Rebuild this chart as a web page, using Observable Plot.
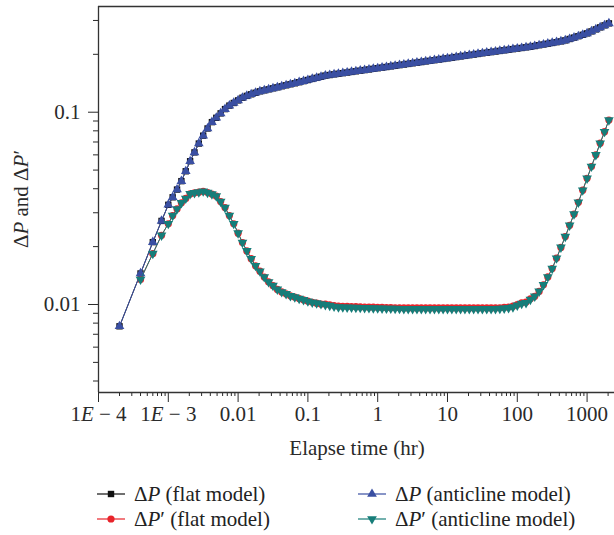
<!DOCTYPE html>
<html><head><meta charset="utf-8">
<script src="https://cdn.jsdelivr.net/npm/d3@7"></script>
<script src="https://cdn.jsdelivr.net/npm/@observablehq/plot@0.6"></script>
<style>
body{margin:0;background:#fff;}
#chart{width:614px;height:535px;position:relative;font-family:"Liberation Serif",serif;color:#222;}
#legend{position:absolute;left:0;top:470px;width:614px;height:65px;font-size:21px;}
.item{position:absolute;display:flex;align-items:center;height:22px;white-space:nowrap;}
.item svg{margin-right:8px;}
</style></head><body><div id="chart"></div>
<script>
// ---- data ----
const time = [0.0002,0.0004,0.0006,0.0008,
0.001,0.001155,0.001334,0.00154,0.001778,0.002054,0.002371,0.002738,0.003162,0.003652,0.004217,0.00487,0.005623,0.006494,0.007499,0.00866,
0.01,0.01155,0.01334,0.0154,0.01778,0.02054,0.02371,0.02738,0.03162,0.03652,0.04217,0.0487,0.05623,0.06494,0.07499,0.0866,
0.1,0.1155,0.1334,0.154,0.1778,0.2054,0.2371,0.2738,0.3162,0.3652,0.4217,0.487,0.5623,0.6494,0.7499,0.866,
1,1.155,1.334,1.54,1.778,2.054,2.371,2.738,3.162,3.652,4.217,4.87,5.623,6.494,7.499,8.66,
10,11.55,13.34,15.4,17.78,20.54,23.71,27.38,31.62,36.52,42.17,48.7,56.23,64.94,74.99,86.6,
100,115.5,133.4,154,177.8,205.4,237.1,273.8,316.2,365.2,421.7,487,562.3,649.4,749.9,866,
1000,1155,1334,1540,1778,2054];

const dpFlat = [0.0077,0.0145,0.0211,0.0272,
0.0330,0.0361,0.0396,0.0438,0.0493,0.0556,0.0618,0.0687,0.0755,0.0823,0.0888,0.0935,0.0986,0.1038,0.1082,0.1117,
0.1152,0.1189,0.1216,0.1239,0.1262,0.1284,0.1299,0.1315,0.1331,0.1347,0.1364,0.1380,0.1397,0.1414,0.1432,0.1451,
0.1470,0.1490,0.1509,0.1529,0.1550,0.1561,0.1573,0.1585,0.1596,0.1608,0.1620,0.1632,0.1644,0.1656,0.1668,0.1681,
0.1693,0.1706,0.1718,0.1731,0.1744,0.1757,0.1770,0.1783,0.1796,0.1810,0.1823,0.1837,0.1850,0.1864,0.1878,0.1892,
0.1906,0.1920,0.1935,0.1950,0.1964,0.1979,0.1994,0.2009,0.2025,0.2039,0.2053,0.2068,0.2083,0.2098,0.2113,0.2128,
0.2143,0.2158,0.2174,0.2189,0.2209,0.2230,0.2250,0.2271,0.2292,0.2313,0.2335,0.2363,0.2403,0.2443,0.2484,0.2526,
0.2570,0.2632,0.2696,0.2761,0.2829,0.2897];

const dpdFlat = [null,0.0135,0.0184,0.0229,
0.0263,0.0290,0.0314,0.0338,0.0356,0.0376,0.0381,0.0384,0.0388,0.0382,0.0375,0.0366,0.0343,0.0319,0.0290,0.0263,
0.0235,0.0210,0.0190,0.0173,0.0159,0.0149,0.0139,0.0131,0.01253,0.01198,0.01162,0.01136,0.01110,0.01092,0.01074,0.01057,
0.01040,0.01026,0.01016,0.01006,0.01005,0.00997,0.00987,0.00980,0.00978,0.00977,0.00975,0.00974,0.00972,0.00970,0.00969,0.00968,
0.00966,0.00965,0.00964,0.00963,0.00962,0.00961,0.0096,0.0096,0.0096,0.0096,0.0096,0.0096,0.0096,0.0096,0.0096,0.0096,
0.0096,0.0096,0.0096,0.0096,0.0096,0.0096,0.0096,0.0096,0.0096,0.0096,0.0096,0.0096,0.00962,0.00965,0.0097,0.0098,
0.0100,0.0102,0.0103,0.0107,0.01103,0.0117,0.01265,0.01391,0.01538,0.01741,0.01981,0.02255,0.0258,0.02951,0.0340,0.0393,
0.0453,0.0522,0.0600,0.0690,0.0792,0.0910];

const dpAnti = [0.0077,0.0145,0.0211,0.0272,
0.0330,0.0361,0.0396,0.0438,0.0493,0.0556,0.0618,0.0687,0.0755,0.0823,0.0888,0.0935,0.0986,0.1038,0.1082,0.1117,
0.1152,0.1189,0.1216,0.1239,0.1262,0.1284,0.1299,0.1315,0.1331,0.1347,0.1364,0.1380,0.1397,0.1414,0.1432,0.1451,
0.1470,0.1490,0.1509,0.1529,0.1550,0.1561,0.1573,0.1585,0.1596,0.1608,0.1620,0.1632,0.1644,0.1656,0.1668,0.1681,
0.1693,0.1706,0.1718,0.1731,0.1744,0.1757,0.1770,0.1783,0.1796,0.1810,0.1823,0.1837,0.1850,0.1864,0.1878,0.1892,
0.1906,0.1920,0.1935,0.1950,0.1964,0.1979,0.1994,0.2009,0.2025,0.2039,0.2053,0.2068,0.2083,0.2098,0.2113,0.2128,
0.2143,0.2158,0.2174,0.2189,0.2209,0.2230,0.2250,0.2271,0.2292,0.2313,0.2335,0.2363,0.2403,0.2443,0.2484,0.2526,
0.2570,0.2632,0.2696,0.2761,0.2829,0.2897];

const dpdAnti = [null,0.0135,0.0184,0.0229,
0.0263,0.0290,0.0314,0.0338,0.0356,0.0376,0.0381,0.0384,0.0388,0.0382,0.0375,0.0366,0.0343,0.0319,0.0290,0.0263,
0.0235,0.0210,0.0190,0.0173,0.0159,0.0149,0.0139,0.0131,0.01253,0.01198,0.01162,0.01136,0.01110,0.01092,0.01074,0.01057,
0.01040,0.01026,0.01016,0.01006,0.00996,0.00987,0.00977,0.00970,0.00968,0.00967,0.00965,0.00964,0.00962,0.00960,0.00959,0.00958,
0.00956,0.00955,0.00954,0.00953,0.00952,0.00951,0.0095,0.0095,0.0095,0.0095,0.0095,0.0095,0.0095,0.0095,0.0095,0.0095,
0.0095,0.0095,0.0095,0.0095,0.0095,0.0095,0.0095,0.0095,0.0095,0.0095,0.0095,0.0095,0.00952,0.00955,0.0096,0.0097,
0.0099,0.0101,0.0102,0.0106,0.01103,0.0117,0.01265,0.01391,0.01538,0.01741,0.01981,0.02255,0.0258,0.02951,0.0340,0.0393,
0.0453,0.0522,0.0600,0.0690,0.0792,0.0910];

const seriesNames = ["ΔP (flat model)","ΔP′ (flat model)","ΔP (anticline model)","ΔP′ (anticline model)"];
const seriesColors = ["#111111","#e8232a","#3a4fa2","#167d79"];
const xMajor = [1e-4,1e-3,0.01,0.1,1,10,100,1000];
const xLabels = ["1E − 4","1E − 3","0.01","0.1","1","10","100","1000"];
const yMajor = [0.01,0.1];
const yLabels = ["0.01","0.1"];
const yMinor = [0.004,0.005,0.006,0.007,0.008,0.009,0.02,0.03,0.04,0.05,0.06,0.07,0.08,0.09,0.2,0.3];
const xTitle = "Elapse time (hr)";

// ---- chart ----
const xDomain = [1e-4, 2470];
const yDomain = [0.003486, 0.3546];
const xMinor = xMajor.flatMap(d => [2,3,4,5,6,7,8,9].map(k => +(d*k).toPrecision(3))).filter(v => v < xDomain[1]);

const triDown = {
  draw(ctx, size) {
    const s3 = Math.sqrt(3);
    const y = -Math.sqrt(size / (s3 * 3));
    ctx.moveTo(0, -y * 2);
    ctx.lineTo(-s3 * y, y);
    ctx.lineTo(s3 * y, y);
    ctx.closePath();
  }
};
const symbols = ["square","circle","triangle",triDown];
const d3Symbols = [d3.symbolSquare, d3.symbolCircle, d3.symbolTriangle, triDown];
const seriesValues = [dpFlat, dpdFlat, dpAnti, dpdAnti];
const tables = seriesValues.map(arr => time.map((t,i) => ({t, v: arr[i]})).filter(d => d.v != null));

const xLab = new Map(xMajor.map((d,i) => [d, xLabels[i]]));
const yLab = new Map(yMajor.map((d,i) => [d, yLabels[i]]));
const R = 3.6;
const FS = 21;

const seriesMarks = tables.flatMap((data, i) => [
  Plot.line(data, {x: "t", y: "v", stroke: seriesColors[i], strokeWidth: 1}),
  Plot.dot(data, {x: "t", y: "v", symbol: symbols[i], r: R, fill: seriesColors[i], stroke: "none"})
]);

const svg = Plot.plot({
  width: 614, height: 470,
  marginLeft: 98, marginRight: 0, marginTop: 6, marginBottom: 78,
  style: {fontFamily: '"Liberation Serif", serif', fontSize: FS + "px", color: "#2a2a2a", background: "#fff", overflow: "visible"},
  x: {type: "log", domain: xDomain},
  y: {type: "log", domain: yDomain},
  marks: [
    Plot.axisX({ticks: xMajor, tickSize: 10, tickPadding: 4, tickFormat: d => xLab.get(d) ?? "", label: null}),
    Plot.axisX({ticks: xMinor, tickSize: 4, tickFormat: () => "", label: null}),
    Plot.axisY({ticks: yMajor, tickSize: 10, tickPadding: 8, tickFormat: d => yLab.get(d) ?? "", label: null}),
    Plot.axisY({ticks: yMinor, tickSize: 5, tickFormat: () => "", label: null}),
    Plot.ruleY([yDomain[0]], {stroke: "#333", strokeWidth: 1.3}),
    Plot.ruleY([yDomain[1]], {stroke: "#333", strokeWidth: 1.3}),
    Plot.ruleX([xDomain[0]], {stroke: "#333", strokeWidth: 1.3}),
    ...seriesMarks
  ]
});

const sel = d3.select(svg);
// italic E in scientific tick labels
sel.selectAll("text").each(function() {
  const s = this.textContent;
  if (/^1E/.test(s)) {
    const [a, b] = s.split("E");
    const t = d3.select(this); t.text("");
    t.append("tspan").text(a);
    t.append("tspan").attr("font-style", "italic").text("E");
    t.append("tspan").text(b);
  }
});
// x title
sel.append("text").attr("x", 357).attr("y", 450).attr("text-anchor", "middle")
  .attr("dominant-baseline", "middle").attr("fill", "#2a2a2a").attr("font-size", FS).text(xTitle);
// y title with italic P
const yt = sel.append("text").attr("transform", "translate(23,199) rotate(-90)")
  .attr("text-anchor", "middle").attr("dominant-baseline", "middle").attr("fill", "#2a2a2a").attr("font-size", FS);
yt.append("tspan").text("Δ"); yt.append("tspan").attr("font-style","italic").text("P");
yt.append("tspan").text(" and Δ"); yt.append("tspan").attr("font-style","italic").text("P");
yt.append("tspan").text("′");

const chart = document.getElementById("chart");
chart.appendChild(svg);

// legend
const legend = d3.select(chart).append("div").attr("id", "legend");
const pos = [[96, 13], [96, 38], [357, 13], [357, 38]];
seriesNames.forEach((name, i) => {
  const item = legend.append("div").attr("class", "item").style("left", pos[i][0] + "px").style("top", pos[i][1] + "px");
  const s = item.append("svg").attr("width", 30).attr("height", 20);
  s.append("line").attr("x1", 1).attr("x2", 29).attr("y1", 10).attr("y2", 10).attr("stroke", seriesColors[i]).attr("stroke-width", 1.2);
  s.append("path").attr("transform", "translate(15,10)").attr("d", d3.symbol(d3Symbols[i], Math.PI * 3.3 * 3.3 * 1.2)()).attr("fill", seriesColors[i]);
  item.append("span").html(name.replace("P", "<i>P</i>"));
});
</script></body></html>
